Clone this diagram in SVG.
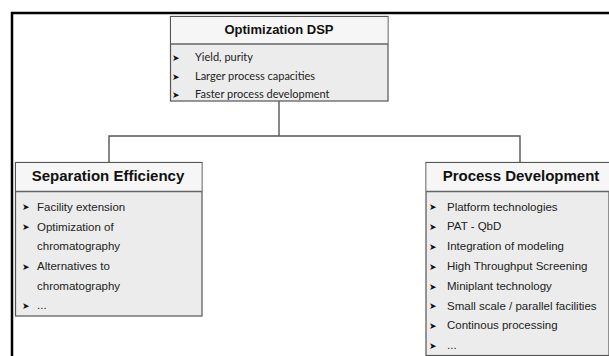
<svg xmlns="http://www.w3.org/2000/svg" width="609" height="356" viewBox="0 0 609 356">
<style>
.frame{fill:none;stroke:#000;stroke-width:2.5}
.box{fill:#ececec;stroke:#555;stroke-width:1.2}
.band{fill:#f6f6f6}
.sep{stroke:#666;stroke-width:1.6}
.conn{fill:none;stroke:#555;stroke-width:1.4}
.title{font-family:"Liberation Sans",Arial,sans-serif;font-weight:bold;fill:#111;text-anchor:middle}
.item{font-family:"Liberation Sans",Arial,sans-serif;font-size:11.5px;fill:#222}
.itemc{font-family:Lato,"Open Sans",sans-serif;font-size:11px;fill:#222}
.bul{font-family:"DejaVu Sans",sans-serif;font-size:9px;fill:#111}
</style>
<rect class="frame" x="12" y="13" width="620" height="370"/>
<g id="connectors">
<path class="conn" d="M279 101 V136 M109 162 V136 H520 V162"/>
</g>
<g id="optimization-dsp">
<rect class="box" x="170.5" y="16.5" width="217.5" height="84.5"/>
<rect class="band" x="171" y="17" width="216.5" height="27"/>
<line class="sep" x1="170.5" y1="44" x2="388" y2="44"/>
<text class="title" x="279" y="34" font-size="13">Optimization DSP</text>
<text class="bul" x="172" y="60.5">➤</text>
<text class="itemc" x="195" y="61">Yield, purity</text>
<text class="bul" x="172" y="79.5">➤</text>
<text class="itemc" x="195" y="80">Larger process capacities</text>
<text class="bul" x="172" y="97.5">➤</text>
<text class="itemc" x="195" y="98">Faster process development</text>
</g>
<g id="separation-efficiency">
<rect class="box" x="15.5" y="162.5" width="186.5" height="153.5"/>
<rect class="band" x="16" y="163" width="185.5" height="28"/>
<line class="sep" x1="15.5" y1="191.5" x2="202" y2="191.5"/>
<text class="title" x="108" y="180.5" font-size="15">Separation Efficiency</text>
<text class="bul" x="22" y="210">➤</text><text class="item" x="37" y="210.5">Facility extension</text>
<text class="bul" x="22" y="230">➤</text><text class="item" x="37" y="230.5">Optimization of</text>
<text class="item" x="37" y="250">chromatography</text>
<text class="bul" x="22" y="269.5">➤</text><text class="item" x="37" y="270">Alternatives to</text>
<text class="item" x="37" y="289.5">chromatography</text>
<text class="bul" x="22" y="308.5">➤</text><text class="item" x="37" y="309">...</text>
</g>
<g id="process-development">
<rect class="box" x="426" y="162.5" width="183" height="193"/>
<rect class="band" x="426.5" y="163" width="182.5" height="28"/>
<line class="sep" x1="426" y1="191.5" x2="609" y2="191.5"/>
<text class="title" x="521" y="180.5" font-size="15">Process Development</text>
<text class="bul" x="429" y="210">➤</text><text class="item" x="447" y="210.5">Platform technologies</text>
<text class="bul" x="429" y="229.5">➤</text><text class="item" x="447" y="230">PAT - QbD</text>
<text class="bul" x="429" y="249.5">➤</text><text class="item" x="447" y="250">Integration of modeling</text>
<text class="bul" x="429" y="269.5">➤</text><text class="item" x="447" y="270">High Throughput Screening</text>
<text class="bul" x="429" y="289.5">➤</text><text class="item" x="447" y="290">Miniplant technology</text>
<text class="bul" x="429" y="309">➤</text><text class="item" x="447" y="309.5">Small scale / parallel facilities</text>
<text class="bul" x="429" y="328.5">➤</text><text class="item" x="447" y="329">Continous processing</text>
<text class="bul" x="429" y="348.5">➤</text><text class="item" x="447" y="349">...</text>
</g>
</svg>
